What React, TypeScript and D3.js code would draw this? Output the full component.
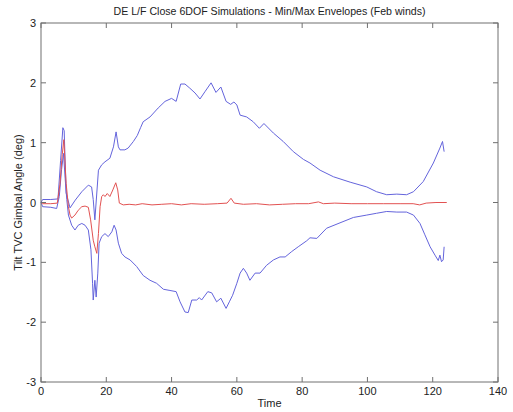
import React from "react";
import * as d3 from "d3";

const TITLE = "DE L/F Close 6DOF Simulations - Min/Max Envelopes (Feb winds)";
const X_LABEL = "Time";
const Y_LABEL = "Tilt TVC Gimbal Angle (deg)";
const X_TICKS = [0, 20, 40, 60, 80, 100, 120, 140];
const Y_TICKS = [-3, -2, -1, 0, 1, 2, 3];

// [time, value]
const MAX_ENV: [number, number][] = [
  [0, 0], [0.5, 0.05], [3, 0.05], [5.2, 0.06], [6.0, 0.7], [6.7, 1.25], [7.1, 1.2], [7.7, 0.16], [8.9, -0.09],
  [10.5, 0.04], [12.5, 0.18], [14.5, 0.29], [15.5, 0.26], [16.0, 0.05], [16.5, -0.29], [17.6, 0.54],
  [18.6, 0.63], [19.6, 0.68], [21.1, 0.74], [22.2, 0.93], [23.0, 1.18], [23.7, 0.93], [24.2, 0.88],
  [25.7, 0.88], [26.7, 0.91], [28.3, 1.02], [29.5, 1.12], [30.5, 1.25], [31.3, 1.35], [33.4, 1.43],
  [35.9, 1.58], [38, 1.69], [40, 1.74], [41.4, 1.69], [42.8, 1.98], [44.1, 1.98], [45.6, 1.91],
  [47.2, 1.83], [48.7, 1.73], [50.2, 1.85], [52.1, 2.0], [53.6, 1.84], [55.1, 1.93], [56.7, 1.69],
  [58.1, 1.64], [59.1, 1.68], [60, 1.63], [61, 1.46], [63, 1.43], [65, 1.35], [66.9, 1.24],
  [68.3, 1.32], [71.2, 1.16], [74.2, 1.02], [77.3, 0.85], [80.4, 0.72], [82.4, 0.66], [85.5, 0.54],
  [89.6, 0.43], [94.7, 0.34], [99.8, 0.26], [102.8, 0.18], [105.9, 0.13], [109, 0.14], [112, 0.13],
  [114.1, 0.18], [117.1, 0.35], [120.2, 0.66], [122.2, 0.91], [123, 1.02], [123.5, 0.85],
];

const MIN_ENV: [number, number][] = [
  [0, 0], [0.5, -0.07], [3, -0.08], [4.8, -0.1], [5.6, 0.1], [6.3, 0.55], [6.9, 0.82], [7.4, 0.4],
  [7.9, 0.05], [8.4, -0.21], [9.4, -0.38], [10.4, -0.46], [11.4, -0.38], [12.5, -0.35], [13.5, -0.38],
  [14.5, -0.46], [15.3, -0.79], [15.8, -1.35], [16.0, -1.63], [16.5, -1.3], [16.9, -1.58], [17.4, -1.18],
  [17.8, -0.68], [18.6, -0.57], [19.6, -0.52], [20.6, -0.57], [21.7, -0.49], [22.4, -0.38], [23.0, -0.46],
  [23.7, -0.68], [24.7, -0.85], [25.7, -0.91], [27.3, -0.96], [29.3, -1.07], [31.3, -1.22], [33.4, -1.3],
  [35.4, -1.35], [37.5, -1.45], [39.5, -1.47], [41.4, -1.49], [42.6, -1.66], [44.1, -1.83], [45.1, -1.84],
  [46.2, -1.63], [47.7, -1.63], [48.5, -1.59], [49.2, -1.63], [51.1, -1.49], [52.3, -1.51], [53.8, -1.66],
  [55.1, -1.6], [56.7, -1.77], [57.7, -1.66], [58.7, -1.55], [60, -1.35], [61, -1.18], [62, -1.1],
  [63, -1.18], [64, -1.3], [65.6, -1.18], [67.1, -1.18], [69.1, -1.05], [71.2, -0.96], [73.2, -0.91],
  [74.8, -0.91], [76.8, -0.82], [78.8, -0.74], [81.4, -0.64], [82.4, -0.59], [84.5, -0.6], [87.5, -0.43],
  [91.6, -0.34], [95.7, -0.25], [99.8, -0.21], [102.8, -0.18], [105.9, -0.15], [109, -0.16], [112, -0.16],
  [114.1, -0.21], [116.1, -0.35], [117.6, -0.54], [119.2, -0.74], [120.7, -0.88], [121.7, -0.97],
  [122.2, -0.88], [122.7, -0.99], [123.2, -0.96], [123.5, -0.74],
];

const NOMINAL: [number, number][] = [
  [0, 0], [0.5, -0.02], [3, -0.02], [5.0, -0.01], [5.8, 0.3], [6.5, 0.8], [7.0, 1.05], [7.7, 0.32],
  [8.4, -0.07], [8.9, -0.21], [9.4, -0.26], [10.4, -0.21], [11.4, -0.13], [12.5, -0.07], [13.5, -0.06],
  [14.5, -0.08], [15.2, -0.29], [16.0, -0.63], [16.5, -0.74], [17.1, -0.85], [17.6, -0.52], [18.1, -0.07],
  [18.6, 0.1], [19.1, 0.13], [19.6, 0.1], [20.3, 0.15], [21.1, 0.1], [22.0, 0.21], [22.9, 0.33],
  [23.5, 0.21], [24.0, -0.01], [25.2, -0.04], [27, -0.03], [29, -0.04], [31, -0.02], [34, -0.04],
  [37, -0.03], [40, -0.02], [43, -0.04], [46, -0.02], [50, -0.03], [54, -0.02], [57, -0.01], [58.2, 0.07],
  [59.2, -0.01], [62, -0.03], [66, -0.02], [70, -0.04], [74, -0.03], [78, -0.02], [82, -0.02], [85, 0.01],
  [86.5, -0.02], [90, -0.01], [95, -0.02], [100, -0.02], [105, -0.02], [110, -0.02], [114, -0.02],
  [116, -0.04], [118, -0.01], [121, 0.0], [124.3, 0.0],
];

const W = 513;
const H = 412;
const M = { left: 41, right: 15, top: 23, bottom: 30 };

export default function App() {
  const x = d3.scaleLinear().domain([0, 140]).range([M.left, W - M.right]);
  const y = d3.scaleLinear().domain([-3, 3]).range([H - M.bottom, M.top]);
  const line = d3
    .line<[number, number]>()
    .x((d) => x(d[0]))
    .y((d) => y(d[1]))
    .curve(d3.curveLinear);
  const font = "'Liberation Sans', Arial, sans-serif";
  const axisColor = "#707070";
  const x0 = M.left, x1 = W - M.right, y0 = M.top, y1 = H - M.bottom;
  const tl = 5;
  return (
    <svg
      width={W}
      height={H}
      style={{ position: "absolute", left: 0, top: 0, background: "#fff" }}
      fontFamily={font}
    >
      <rect x={0} y={0} width={W} height={H} fill="#fff" />
      <path d={line(MAX_ENV) || ""} fill="none" stroke="#6464dc" strokeWidth={1} />
      <path d={line(MIN_ENV) || ""} fill="none" stroke="#6464dc" strokeWidth={1} />
      <path d={line(NOMINAL) || ""} fill="none" stroke="#e25252" strokeWidth={1} />
      <rect x={x0} y={y0} width={x1 - x0} height={y1 - y0} fill="none" stroke={axisColor} strokeWidth={1} />
      {X_TICKS.map((t) => (
        <g key={"x" + t}>
          <line x1={x(t)} x2={x(t)} y1={y1} y2={y1 - tl} stroke={axisColor} />
          <line x1={x(t)} x2={x(t)} y1={y0} y2={y0 + tl} stroke={axisColor} />
          <text x={x(t)} y={y1 + 13} fontSize={11} textAnchor="middle" fill="#222">
            {t}
          </text>
        </g>
      ))}
      {Y_TICKS.map((t) => (
        <g key={"y" + t}>
          <line x1={x0} x2={x0 + tl} y1={y(t)} y2={y(t)} stroke={axisColor} />
          <line x1={x1} x2={x1 - tl} y1={y(t)} y2={y(t)} stroke={axisColor} />
          <text x={x0 - 5} y={y(t) + 4} fontSize={11} textAnchor="end" fill="#222">
            {t}
          </text>
        </g>
      ))}
      <text x={(x0 + x1) / 2} y={15} fontSize={10.6} textAnchor="middle" fill="#222">
        {TITLE}
      </text>
      <text x={(x0 + x1) / 2} y={H - 5} fontSize={11} textAnchor="middle" fill="#222">
        {X_LABEL}
      </text>
      <text
        transform={`translate(${22},${(y0 + y1) / 2}) rotate(-90)`}
        fontSize={11}
        textAnchor="middle"
        fill="#222"
      >
        {Y_LABEL}
      </text>
    </svg>
  );
}
